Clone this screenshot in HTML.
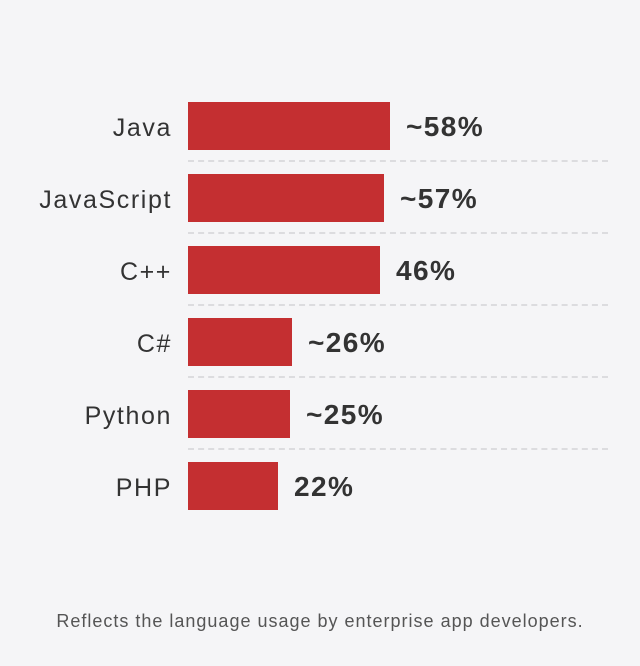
<!DOCTYPE html>
<html><head><meta charset="utf-8"><style>
body{margin:0;width:640px;height:666px;background:#f5f5f7;font-family:"Liberation Sans",sans-serif;position:relative;overflow:hidden}
.l{position:absolute;right:468px;font-size:25px;color:#333;letter-spacing:1.6px;line-height:52px;white-space:nowrap}
.b{position:absolute;left:188px;height:48px;background:#c42f31}
.v{position:absolute;font-size:28px;font-weight:bold;color:#333;letter-spacing:1.4px;line-height:50px;white-space:nowrap}
.d{position:absolute;left:188px;width:420px;height:0;border-top:2px dashed #dcdcdf}
.f{position:absolute;left:0;width:640px;top:611px;text-align:center;font-size:18px;color:#555;letter-spacing:1px}
</style></head><body>
<div class="l" style="top:102px">Java</div><div class="b" style="top:102px;width:202px"></div><div class="v" style="top:102px;left:406px">~58%</div>
<div class="d" style="top:160px"></div>
<div class="l" style="top:174px">JavaScript</div><div class="b" style="top:174px;width:196px"></div><div class="v" style="top:174px;left:400px">~57%</div>
<div class="d" style="top:232px"></div>
<div class="l" style="top:246px">C++</div><div class="b" style="top:246px;width:192px"></div><div class="v" style="top:246px;left:396px">46%</div>
<div class="d" style="top:304px"></div>
<div class="l" style="top:318px">C#</div><div class="b" style="top:318px;width:104px"></div><div class="v" style="top:318px;left:308px">~26%</div>
<div class="d" style="top:376px"></div>
<div class="l" style="top:390px">Python</div><div class="b" style="top:390px;width:102px"></div><div class="v" style="top:390px;left:306px">~25%</div>
<div class="d" style="top:448px"></div>
<div class="l" style="top:462px">PHP</div><div class="b" style="top:462px;width:90px"></div><div class="v" style="top:462px;left:294px">22%</div>
<div class="f">Reflects the language usage by enterprise app developers.</div>
</body></html>
